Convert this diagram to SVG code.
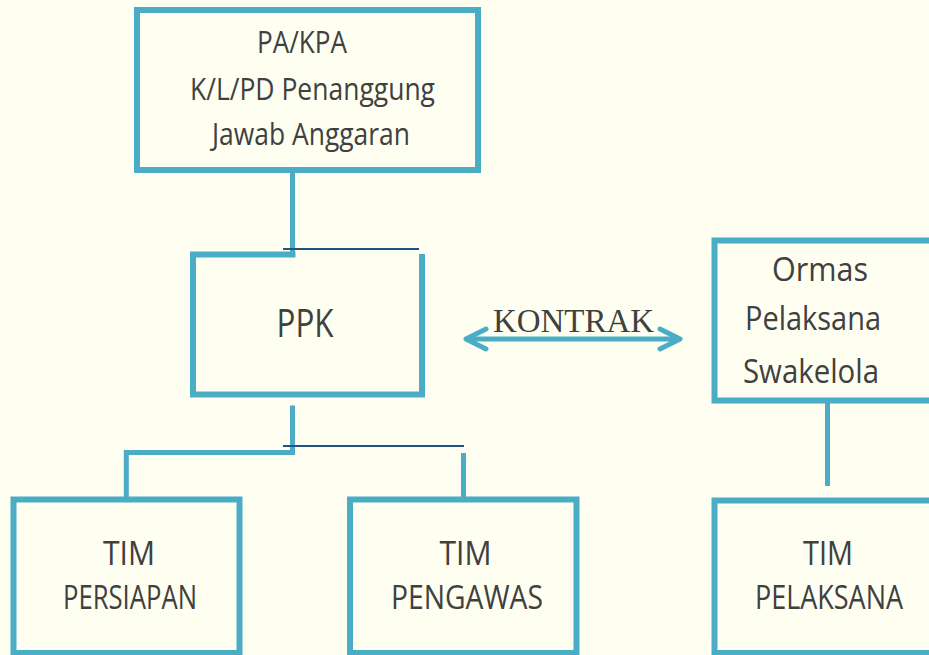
<svg xmlns="http://www.w3.org/2000/svg" width="929" height="655" viewBox="0 0 929 655">
<style>
.box{fill:none;stroke:#4BACC6;stroke-width:6;stroke-linejoin:miter}
.con{fill:none;stroke:#4BACC6;stroke-width:5}
.thin{fill:none;stroke:#1F5583;stroke-width:2}
.t{font-family:"Open Sans","Liberation Sans",sans-serif;fill:#404040;text-anchor:middle}
.k{font-family:"Liberation Serif","DejaVu Serif",serif;fill:#404040;text-anchor:middle}
</style>
<rect width="929" height="655" fill="#FEFFF0"/>
<g id="connectors">
<path class="con" d="M292.5,170 V257"/>
<path class="thin" d="M283,249 H419"/>
<path class="con" d="M292.5,405.5 V452.5 H126.3 V500"/>
<path class="con" d="M463.5,453 V500"/>
<path class="thin" d="M283,446 H464"/>
<path class="con" d="M827.5,400 V486"/>
<g id="kontrak">
<path class="con" d="M468,339 H678"/>
<path class="con" stroke-linecap="round" stroke-linejoin="round" d="M486,329 L466,339 L486,349 M660,329 L680,339 L660,349"/>
<text class="k" x="573.5" y="332" font-size="34" textLength="161" lengthAdjust="spacingAndGlyphs">KONTRAK</text>
</g>
</g>
<g id="pa-kpa">
<rect class="box" x="137" y="10" width="341" height="160"/>
<text class="t" x="302" y="53" font-size="31" textLength="90" lengthAdjust="spacingAndGlyphs">PA/KPA</text>
<text class="t" x="312.5" y="100" font-size="31" textLength="245" lengthAdjust="spacingAndGlyphs">K/L/PD Penanggung</text>
<text class="t" x="311" y="145" font-size="31" textLength="198" lengthAdjust="spacingAndGlyphs">Jawab Anggaran</text>
</g>
<g id="ppk">
<path class="box" d="M295.5,254.5 H193 V394.5 H422 V254"/>
<text class="t" x="305" y="337" font-size="39" textLength="57" lengthAdjust="spacingAndGlyphs">PPK</text>
</g>
<g id="ormas">
<path class="box" stroke-linejoin="round" d="M935,240.5 H714.5 V400.5 H935"/>
<text class="t" x="820" y="281" font-size="33" textLength="96" lengthAdjust="spacingAndGlyphs">Ormas</text>
<text class="t" x="813" y="330" font-size="33" textLength="136" lengthAdjust="spacingAndGlyphs">Pelaksana</text>
<text class="t" x="811" y="383" font-size="33" textLength="136" lengthAdjust="spacingAndGlyphs">Swakelola</text>
</g>
<g id="tim-persiapan">
<rect class="box" x="13.5" y="499.5" width="226" height="153.5"/>
<text class="t" x="129" y="565" font-size="32" textLength="52" lengthAdjust="spacingAndGlyphs">TIM</text>
<text class="t" x="130" y="609" font-size="32" textLength="134" lengthAdjust="spacingAndGlyphs">PERSIAPAN</text>
</g>
<g id="tim-pengawas">
<rect class="box" x="350" y="499.5" width="226.5" height="153.5"/>
<text class="t" x="465.5" y="565" font-size="32" textLength="52" lengthAdjust="spacingAndGlyphs">TIM</text>
<text class="t" x="467" y="609" font-size="32" textLength="152" lengthAdjust="spacingAndGlyphs">PENGAWAS</text>
</g>
<g id="tim-pelaksana">
<path class="box" stroke-linejoin="round" d="M935,500.5 H714.5 V653 H935"/>
<text class="t" x="828" y="565" font-size="32" textLength="50" lengthAdjust="spacingAndGlyphs">TIM</text>
<text class="t" x="829" y="609" font-size="32" textLength="148" lengthAdjust="spacingAndGlyphs">PELAKSANA</text>
</g>
</svg>
